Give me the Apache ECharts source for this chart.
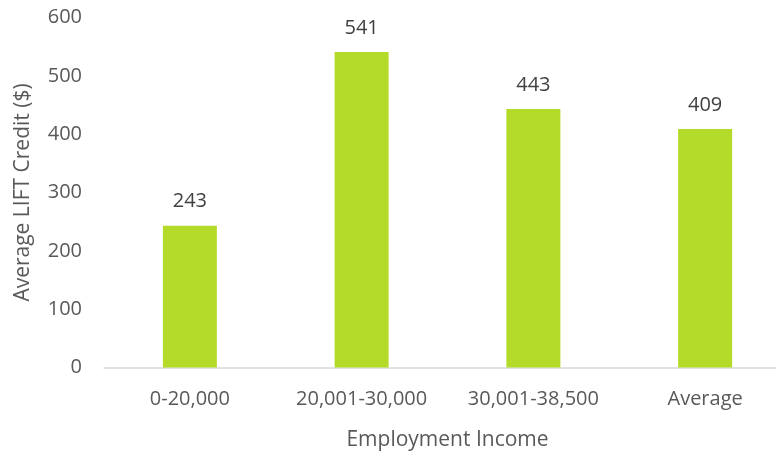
<!DOCTYPE html>
<html><head><meta charset="utf-8">
<script src="https://cdn.jsdelivr.net/npm/echarts@6/dist/echarts.min.js"></script>
<style>html,body{margin:0;padding:0;background:#fff}#c{width:776px;height:455px}</style>
</head><body><div id="c"></div>
<script>
const categories = ["0-20,000", "20,001-30,000", "30,001-38,500", "Average"];
const values = [243, 541, 443, 409];
const yTicks = [0, 100, 200, 300, 400, 500, 600];
const xTitle = "Employment Income";
const yTitle = "Average LIFT Credit ($)";

const FONT = "'Open Sans', sans-serif";
const chart = echarts.init(document.getElementById('c'), null, {renderer: 'canvas'});
chart.setOption({
  animation: false,
  grid: {left: 104, top: 17.5, width: 687, height: 350, containLabel: false, outerBoundsMode: 'none'},
  xAxis: {
    type: 'category', data: categories,
    name: xTitle, nameLocation: 'middle', nameGap: 62,
    nameTextStyle: {fontFamily: FONT, fontSize: 21, color: '#595959'},
    axisLine: {lineStyle: {color: '#d9d9d9', width: 1.5}},
    axisTick: {show: false},
    axisLabel: {fontFamily: FONT, fontSize: 20, color: '#595959', margin: 22, interval: 0}
  },
  yAxis: {
    type: 'value', min: yTicks[0], max: yTicks[yTicks.length - 1], interval: 100,
    name: yTitle, nameLocation: 'middle', nameGap: 70,
    nameTextStyle: {fontFamily: FONT, fontSize: 21, color: '#595959'},
    axisLine: {show: false}, axisTick: {show: false},
    splitLine: {show: false},
    axisLabel: {fontFamily: FONT, fontSize: 20, color: '#595959', margin: 22}
  },
  series: [{
    type: 'bar', data: values, barWidth: 54,
    itemStyle: {color: '#b5db2a'},
    label: {show: true, position: 'top', distance: 14, fontFamily: FONT, fontSize: 20, color: '#404040'}
  }]
});
</script></body></html>
